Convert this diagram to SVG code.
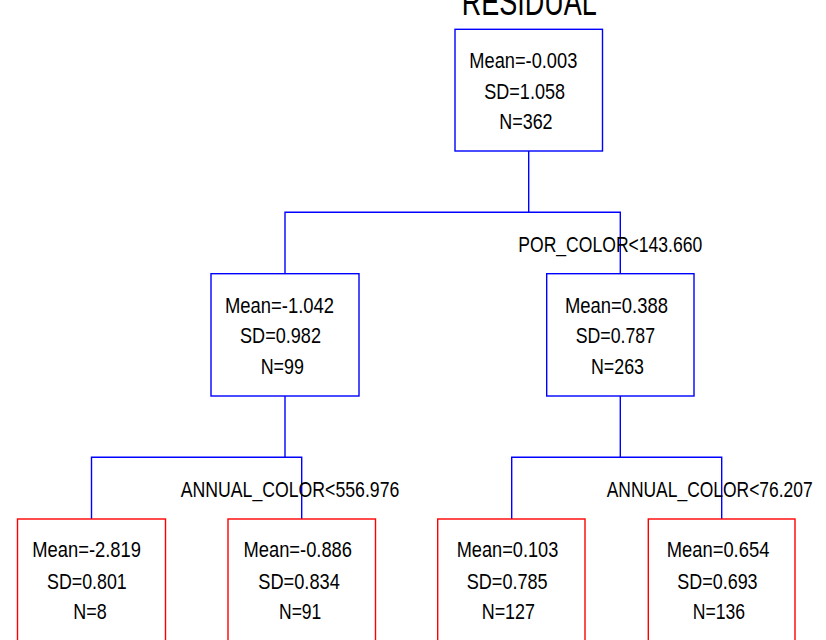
<svg xmlns="http://www.w3.org/2000/svg" width="826" height="640" viewBox="0 0 826 640">
<style>
text{font-family:"Liberation Sans",Arial,sans-serif;font-size:22px;fill:#000}
.title{font-size:38px}
.inner{fill:#fff;stroke:#0000ff;stroke-width:1.4}
.leaf{fill:#fff;stroke:#ff0000;stroke-width:1.4}
.conn{fill:none;stroke:#0000ff;stroke-width:1.4}
</style>
<rect width="826" height="640" fill="#fff"/>
<text class="title" x="461.7" y="15" textLength="135" lengthAdjust="spacingAndGlyphs">RESIDUAL</text>
<g id="connectors">
<path class="conn" d="M528.7 151V212.3M285 273.7V212.3H620.3V273.7"/>
<path class="conn" d="M285 396V457.3M91.5 519V457.3H301.7V519"/>
<path class="conn" d="M620.3 396V457.3M511.7 519V457.3H721.7V519"/>
</g>
<g id="label-split1"><text x="518.3" y="251.7" textLength="184" lengthAdjust="spacingAndGlyphs">POR_COLOR&lt;143.660</text></g>
<g id="label-split2"><text x="180.7" y="496.7" textLength="218.6" lengthAdjust="spacingAndGlyphs">ANNUAL_COLOR&lt;556.976</text></g>
<g id="label-split3"><text x="606.7" y="496.7" textLength="206" lengthAdjust="spacingAndGlyphs">ANNUAL_COLOR&lt;76.207</text></g>
<g id="node-root">
<rect class="inner" x="455" y="29.3" width="147.5" height="121.7"/>
<text x="469.3" y="67.7" textLength="108" lengthAdjust="spacingAndGlyphs">Mean=-0.003</text>
<text x="484.3" y="99" textLength="80.7" lengthAdjust="spacingAndGlyphs">SD=1.058</text>
<text x="499.3" y="129.3" textLength="53.3" lengthAdjust="spacingAndGlyphs">N=362</text>
</g>
<g id="node-left">
<rect class="inner" x="211" y="273.7" width="148" height="122.3"/>
<text x="225" y="312.7" textLength="109" lengthAdjust="spacingAndGlyphs">Mean=-1.042</text>
<text x="240" y="343.3" textLength="81" lengthAdjust="spacingAndGlyphs">SD=0.982</text>
<text x="260.7" y="374.3" textLength="43.3" lengthAdjust="spacingAndGlyphs">N=99</text>
</g>
<g id="node-right">
<rect class="inner" x="546.7" y="273.7" width="147.3" height="122.3"/>
<text x="565" y="312.7" textLength="103" lengthAdjust="spacingAndGlyphs">Mean=0.388</text>
<text x="575.7" y="343.3" textLength="79.3" lengthAdjust="spacingAndGlyphs">SD=0.787</text>
<text x="591" y="374.3" textLength="53" lengthAdjust="spacingAndGlyphs">N=263</text>
</g>
<g id="leaf-1">
<rect class="leaf" x="17.5" y="519" width="148" height="140"/>
<text x="32.3" y="557.3" textLength="108.7" lengthAdjust="spacingAndGlyphs">Mean=-2.819</text>
<text x="47" y="589.3" textLength="79.7" lengthAdjust="spacingAndGlyphs">SD=0.801</text>
<text x="73.3" y="619.3" textLength="33.4" lengthAdjust="spacingAndGlyphs">N=8</text>
</g>
<g id="leaf-2">
<rect class="leaf" x="228" y="519" width="147.5" height="140"/>
<text x="243.5" y="557.3" textLength="108.5" lengthAdjust="spacingAndGlyphs">Mean=-0.886</text>
<text x="258.3" y="589.3" textLength="81.5" lengthAdjust="spacingAndGlyphs">SD=0.834</text>
<text x="279" y="619.3" textLength="42.3" lengthAdjust="spacingAndGlyphs">N=91</text>
</g>
<g id="leaf-3">
<rect class="leaf" x="437.7" y="519" width="147.3" height="140"/>
<text x="456.7" y="557.3" textLength="101.6" lengthAdjust="spacingAndGlyphs">Mean=0.103</text>
<text x="466.7" y="589.3" textLength="81" lengthAdjust="spacingAndGlyphs">SD=0.785</text>
<text x="481.7" y="619.3" textLength="53.3" lengthAdjust="spacingAndGlyphs">N=127</text>
</g>
<g id="leaf-4">
<rect class="leaf" x="648.3" y="519" width="146.7" height="140"/>
<text x="666.7" y="557.3" textLength="102.7" lengthAdjust="spacingAndGlyphs">Mean=0.654</text>
<text x="677.3" y="589.3" textLength="80.3" lengthAdjust="spacingAndGlyphs">SD=0.693</text>
<text x="692.7" y="619.3" textLength="52.3" lengthAdjust="spacingAndGlyphs">N=136</text>
</g>
</svg>
